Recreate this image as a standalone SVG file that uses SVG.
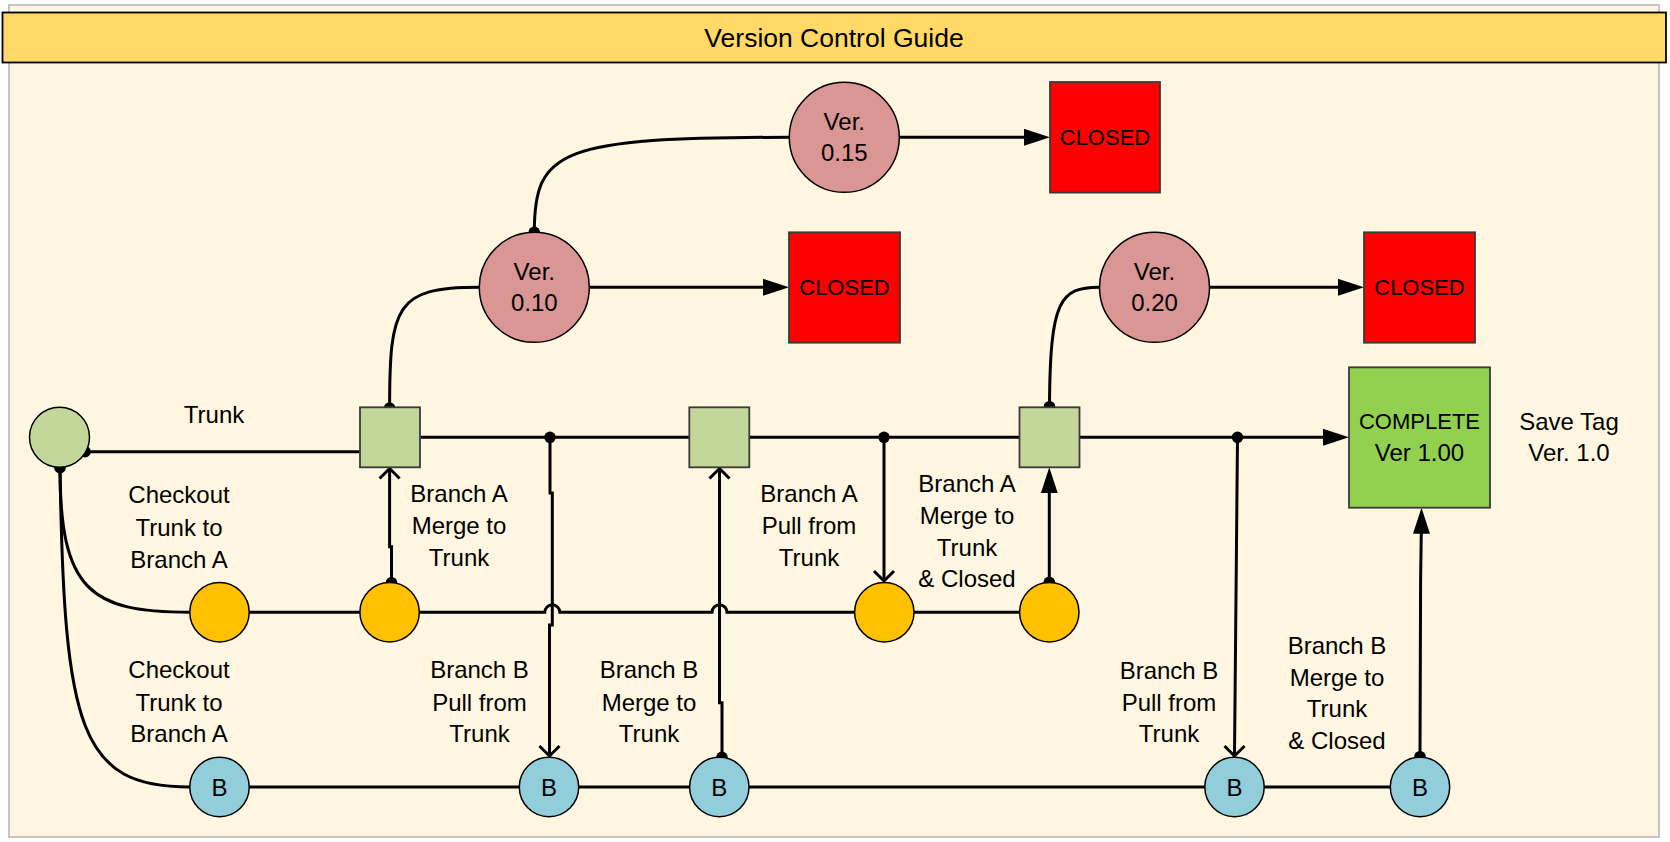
<svg xmlns="http://www.w3.org/2000/svg" width="1670" height="842" viewBox="0 0 1670 842">
<defs>
<style>
text{font-family:"Liberation Sans",Arial,sans-serif;font-size:24px;fill:#000;text-anchor:middle}
.caps{font-size:22px}
.title{font-size:26.5px}
.nd{stroke:#000;stroke-width:1.5}
.sq{fill:#C4D79B;stroke:#3a3a3a;stroke-width:1.8}
.or{fill:#FFC000}
.bl{fill:#92CDDC}
.pk{fill:#D99694}
.rd{fill:#FF0000;stroke:#3a3a3a;stroke-width:1.8}
.cp{fill:#92D050;stroke:#3a3a3a;stroke-width:1.8}
.c{fill:none;stroke:#000;stroke-width:3}
.dotted{marker-start:url(#dot)}
.fa{marker-end:url(#fill)}
.oa{marker-end:url(#open)}
</style>
<marker id="dot" markerUnits="userSpaceOnUse" markerWidth="14" markerHeight="14" refX="7" refY="7" orient="auto"><circle cx="7" cy="7" r="5.8" fill="#000"/></marker>
<marker id="fill" markerUnits="userSpaceOnUse" markerWidth="30" markerHeight="20" refX="16" refY="8.5" orient="auto"><path d="M0,0 L26,8.5 L0,17 z" fill="#000"/></marker>
<marker id="open" markerUnits="userSpaceOnUse" markerWidth="20" markerHeight="26" refX="12" refY="12" orient="auto"><path d="M2,2 L12,12 L2,22" fill="none" stroke="#000" stroke-width="3"/></marker>
</defs>
<rect x="9" y="5" width="1650" height="832" fill="#FEF6E0" stroke="#BFBFBF" stroke-width="1.8"/>
<g id="title">
<rect x="2.5" y="12.5" width="1663.5" height="50" fill="#FFD966" stroke="#000" stroke-width="1.8"/>
<text class="title" x="834" y="46.5">Version Control Guide</text>
</g>
<g id="connectors">
<path class="c dotted" d="M85,451.7 H360"/>
<path class="c" d="M420,437.3 H689.3"/>
<path class="c" d="M749.3,437.3 H1019.5"/>
<path class="c fa" d="M1079.5,437.3 H1339"/>
<path class="c" d="M249,612.3 H360"/>
<path class="c" d="M419.3,612.3 H544.8 A7.5,7.5 0 0 1 559.8,612.3 H712 A7.5,7.5 0 0 1 727,612.3 H855"/>
<path class="c" d="M913.6,612.3 H1019.6"/>
<path class="c" d="M249.2,787 H519.3 M578.7,787 H689.6 M749,787 H1204.8 M1264.2,787 H1390.3"/>
<path class="c dotted" d="M60,467.7 C60,590 90,612.3 190,612.3"/>
<path class="c" d="M60,467.7 C64,730 80,787 190,787"/>
<path class="c dotted" d="M389.6,408 C389.6,305 396,287.3 479.3,287.3"/>
<path class="c fa" d="M589.3,287.3 H779"/>
<path class="c dotted" d="M534.3,232.3 C534.3,150 560,137.3 789.3,137.3"/>
<path class="c fa" d="M899.3,137.3 H1040"/>
<path class="c dotted" d="M1049.5,406.7 C1050,300 1060,287.3 1099.5,287.3"/>
<path class="c fa" d="M1209.5,287.3 H1354"/>
<path class="c dotted oa" d="M391.5,582.7 V546.7 H389.6 V468.5"/>
<path class="c dotted oa" d="M550,437.3 V493 H552.3 V625 H549.5 V756"/>
<path class="c dotted oa" d="M722,757.3 V702.7 H719.5 V468.5"/>
<path class="c dotted oa" d="M884,437.3 V581"/>
<path class="c dotted fa" d="M1049.3,582.3 V477.3"/>
<path class="c dotted oa" d="M1237.5,437.3 C1236.8,600 1234.6,700 1234.5,756"/>
<path class="c dotted fa" d="M1420,756.7 L1420.6,580 C1421,545 1421.5,530 1421.5,517.7"/>
</g>
<g id="start"><circle class="nd" cx="59.5" cy="437.3" r="30" fill="#C4D79B"/></g>
<g id="sq1"><rect class="sq" x="360" y="407.3" width="60" height="60"/></g>
<g id="sq2"><rect class="sq" x="689.3" y="407.3" width="60" height="60"/></g>
<g id="sq3"><rect class="sq" x="1019.5" y="407.3" width="60" height="60"/></g>
<g id="a1"><circle class="nd or" cx="219.5" cy="612.3" r="29.7"/></g>
<g id="a2"><circle class="nd or" cx="389.6" cy="612.3" r="29.7"/></g>
<g id="a3"><circle class="nd or" cx="884.3" cy="612.3" r="29.7"/></g>
<g id="a4"><circle class="nd or" cx="1049.3" cy="612.3" r="29.7"/></g>
<g id="b1"><circle class="nd bl" cx="219.5" cy="787" r="29.7"/><text x="219.5" y="796">B</text></g>
<g id="b2"><circle class="nd bl" cx="549" cy="787" r="29.7"/><text x="549" y="796">B</text></g>
<g id="b3"><circle class="nd bl" cx="719.3" cy="787" r="29.7"/><text x="719.3" y="796">B</text></g>
<g id="b4"><circle class="nd bl" cx="1234.5" cy="787" r="29.7"/><text x="1234.5" y="796">B</text></g>
<g id="b5"><circle class="nd bl" cx="1420" cy="787" r="29.7"/><text x="1420" y="796">B</text></g>
<g id="v010"><circle class="nd pk" cx="534.3" cy="287.3" r="55"/><text x="534.3" y="280">Ver.</text><text x="534.3" y="311">0.10</text></g>
<g id="v015"><circle class="nd pk" cx="844.3" cy="137.3" r="55"/><text x="844.3" y="130">Ver.</text><text x="844.3" y="161">0.15</text></g>
<g id="v020"><circle class="nd pk" cx="1154.5" cy="287.3" r="55"/><text x="1154.5" y="280">Ver.</text><text x="1154.5" y="311">0.20</text></g>
<g id="closed1"><rect class="rd" x="789" y="232.3" width="111" height="110.4"/><text class="caps" x="844.5" y="295">CLOSED</text></g>
<g id="closed2"><rect class="rd" x="1050" y="82" width="110" height="110.6"/><text class="caps" x="1105" y="145">CLOSED</text></g>
<g id="closed3"><rect class="rd" x="1364" y="232.3" width="111" height="110.4"/><text class="caps" x="1419.5" y="295">CLOSED</text></g>
<g id="complete"><rect class="cp" x="1349" y="367.3" width="141" height="140.4"/><text class="caps" x="1419.5" y="429">COMPLETE</text><text x="1419.5" y="461">Ver 1.00</text></g>
<g id="labels">
<text x="214" y="423">Trunk</text>
<text x="179" y="503">Checkout</text><text x="179" y="535.5">Trunk to</text><text x="179" y="567.5">Branch A</text>
<text x="179" y="678">Checkout</text><text x="179" y="710.5">Trunk to</text><text x="179" y="742">Branch A</text>
<text x="459" y="502">Branch A</text><text x="459" y="534">Merge to</text><text x="459" y="565.5">Trunk</text>
<text x="479.5" y="678">Branch B</text><text x="479.5" y="710.5">Pull from</text><text x="479.5" y="742">Trunk</text>
<text x="809" y="501.5">Branch A</text><text x="809" y="534">Pull from</text><text x="809" y="565.5">Trunk</text>
<text x="967" y="492">Branch A</text><text x="967" y="524">Merge to</text><text x="967" y="555.5">Trunk</text><text x="967" y="587">&amp; Closed</text>
<text x="649" y="678">Branch B</text><text x="649" y="710.5">Merge to</text><text x="649" y="742">Trunk</text>
<text x="1169" y="679">Branch B</text><text x="1169" y="710.5">Pull from</text><text x="1169" y="742">Trunk</text>
<text x="1337" y="654">Branch B</text><text x="1337" y="685.5">Merge to</text><text x="1337" y="717">Trunk</text><text x="1337" y="749">&amp; Closed</text>
<text x="1569" y="430">Save Tag</text><text x="1569" y="461">Ver. 1.0</text>
</g>
</svg>
